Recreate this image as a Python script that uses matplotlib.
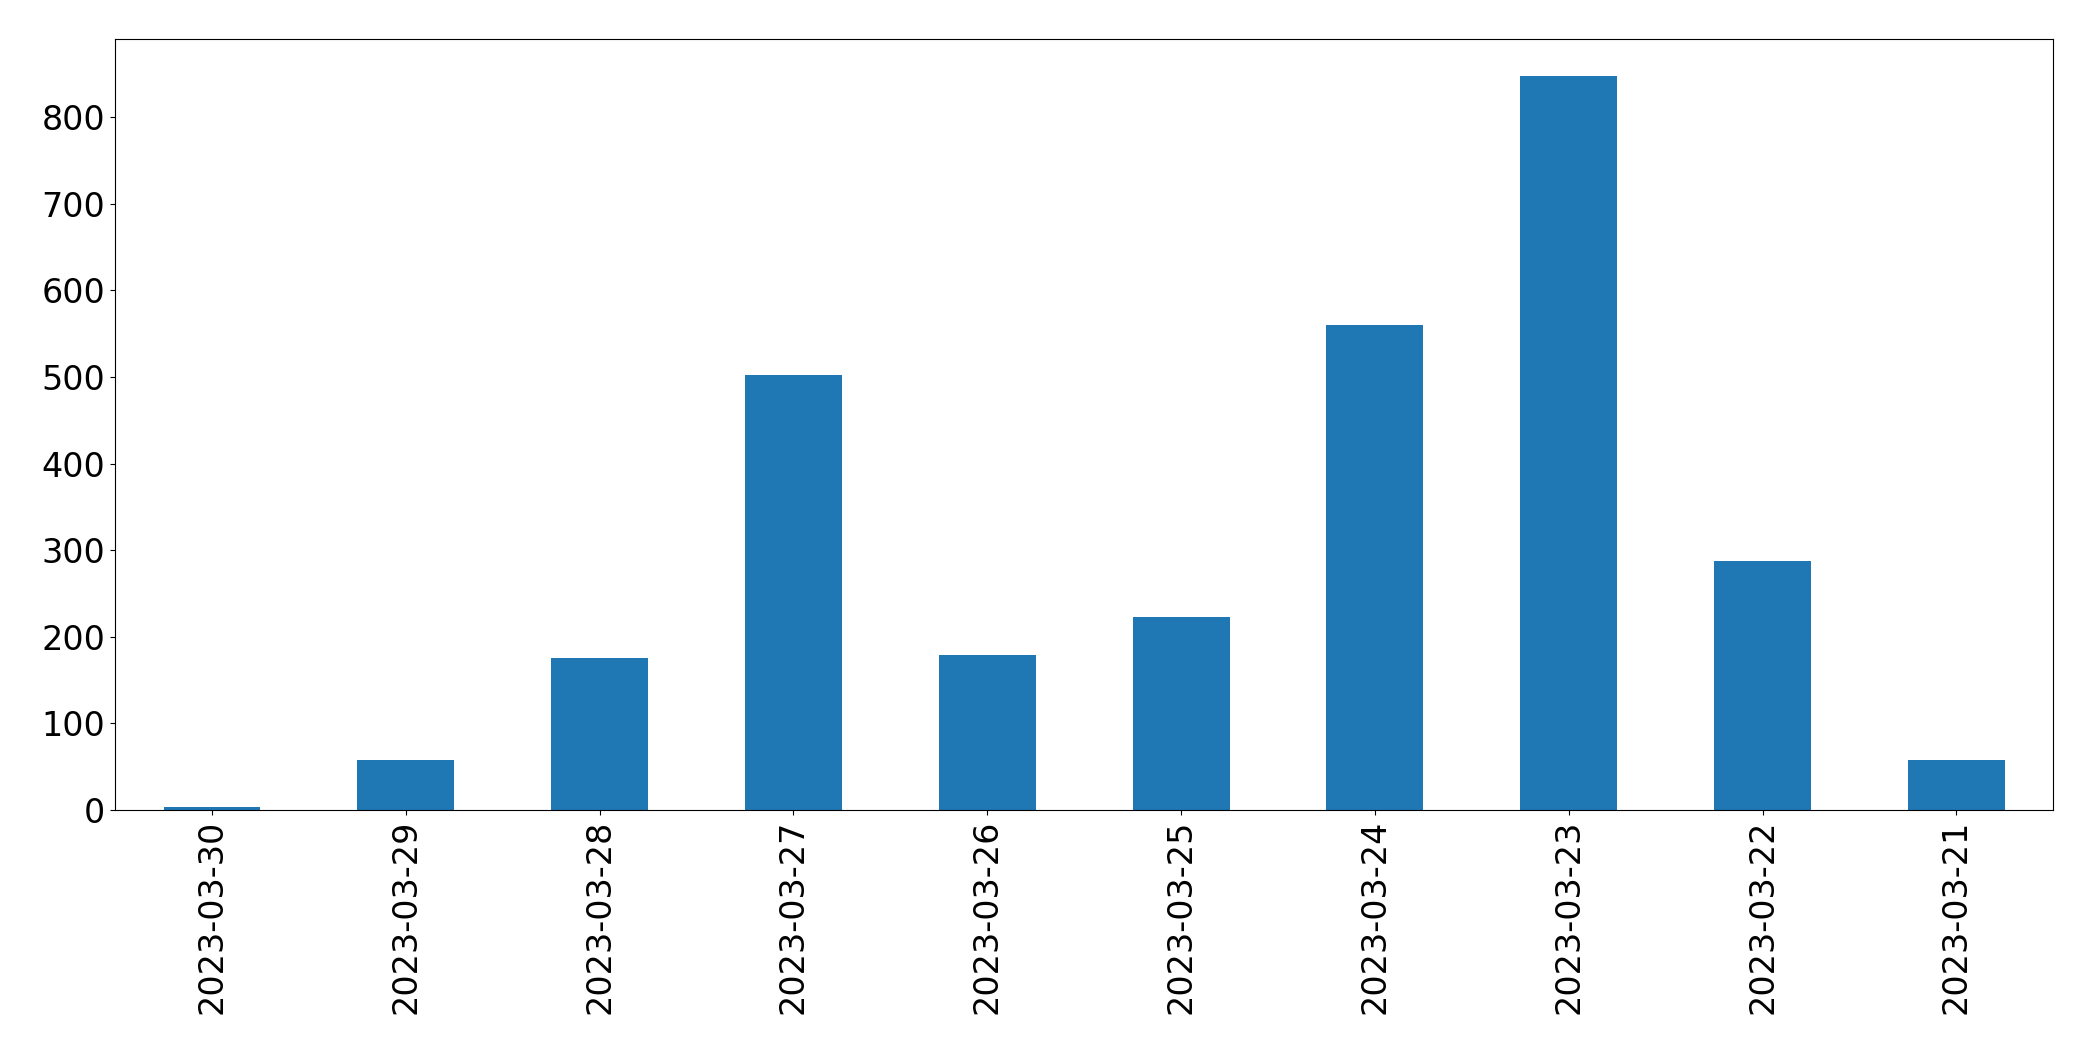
import matplotlib
matplotlib.use("Agg")
import matplotlib.pyplot as plt

dates = ["2023-03-30", "2023-03-29", "2023-03-28", "2023-03-27", "2023-03-26",
         "2023-03-25", "2023-03-24", "2023-03-23", "2023-03-22", "2023-03-21"]
counts = [3, 57, 175, 502, 179, 222, 560, 848, 287, 57]

fig, ax = plt.subplots(figsize=(20.93, 10.61), dpi=100)
fig.subplots_adjust(left=0.055, right=0.981, top=0.963, bottom=0.237)
x = range(len(dates))
ax.bar(x, counts, width=0.5, color="#1f77b4")
ax.set_xticks(list(x))
ax.set_xticklabels(dates, rotation=90)
ax.set_xlim(-0.5, len(dates) - 0.5)
ax.tick_params(labelsize=24)
fig.savefig("out.png", dpi=100)
